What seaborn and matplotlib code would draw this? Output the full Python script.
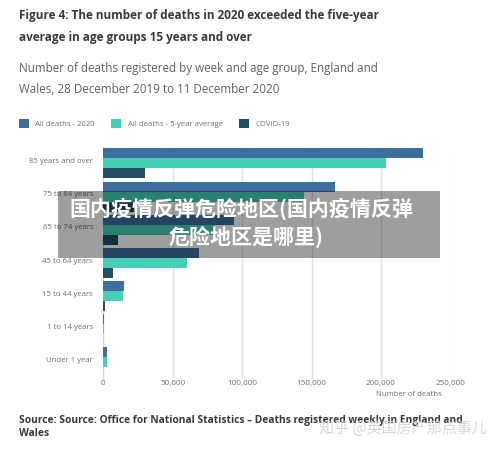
import matplotlib
matplotlib.use("Agg")
import matplotlib.pyplot as plt
import seaborn as sns
import pandas as pd
from matplotlib.patches import Rectangle
from matplotlib.transforms import ScaledTranslation

age_groups = ["85 years and over", "75 to 84 years", "65 to 74 years", "45 to 64 years",
              "15 to 44 years", "1 to 14 years", "Under 1 year"]
deaths_2020 = [230000, 167000, 94200, 68900, 14900, 500, 2400]
deaths_avg = [203500, 144400, 80000, 60400, 14400, 700, 2700]
deaths_covid = [30200, 22000, 10800, 6700, 1000, 30, 5]
series_names = ["All deaths - 2020", "All deaths - 5-year average", "COVID-19"]
series_colors = ["#3c6e9f", "#45cfb4", "#234e63"]
x_ticks = [0, 50000, 100000, 150000, 200000, 250000]

W, H = 500, 449
plt.rcParams["font.family"] = ["Open Sans", "Noto Sans CJK SC", "DejaVu Sans"]
fig = plt.figure(figsize=(W / 100, H / 100), dpi=100, facecolor="white")
left, right, top, bottom = 103.3, 450.5, 147.0, 378.5
ax = fig.add_axes([left / W, 1 - bottom / H, (right - left) / W, (bottom - top) / H])

df = pd.DataFrame({
    "age": age_groups * 3,
    "value": deaths_2020 + deaths_avg + deaths_covid,
    "series": sum([[s] * len(age_groups) for s in series_names], []),
})
sns.barplot(data=df, y="age", x="value", hue="series", order=age_groups, hue_order=series_names,
            palette=series_colors, orient="h", width=0.906, gap=0, saturation=1, legend=False, ax=ax,
            zorder=3, linewidth=0)

ax.set_xlim(0, 250000)
ax.set_ylim(6.495, -0.498)
ax.set_xticks(x_ticks)
ax.set_xticklabels([f"{v:,}" for v in x_ticks], fontsize=5.9, color="#707070")
ax.set_yticks(range(len(age_groups)))
ax.set_yticklabels(age_groups, fontsize=5.6, color="#707070")
ax.tick_params(length=0, pad=7.3, axis="y")
ax.tick_params(length=0, pad=1.0, axis="x")
for label in ax.get_yticklabels():
    label.set_transform(label.get_transform() + ScaledTranslation(0, 2 / 72, fig.dpi_scale_trans))
for s in ["top", "right", "bottom"]:
    ax.spines[s].set_visible(False)
ax.spines["left"].set_color("#c9dde0")
ax.spines["left"].set_linewidth(0.8)
ax.grid(axis="x", color="#e2e2e2", linewidth=1, zorder=0)
ax.set_axisbelow(True)
ax.grid(axis="y", visible=False)
ax.set_xlabel("")
ax.set_ylabel("")


def px(x, y, s, **kw):
    return fig.text(x / W, 1 - y / H, s, **kw)


px(19, 16, "Figure 4: The number of deaths in 2020 exceeded the five-year", fontsize=8.43, fontweight="bold",
   color="#3a3a3a", va="center")
px(19, 37, "average in age groups 15 years and over", fontsize=8.43, fontweight="bold", color="#3a3a3a", va="center")
px(19, 69, "Number of deaths registered by week and age group, England and", fontsize=8.36, color="#606060", va="center")
px(19, 89.5, "Wales, 28 December 2019 to 11 December 2020", fontsize=8.36, color="#606060", va="center")

for x0, x1, c, name in zip([19, 111, 239], [35, 127.5, 255.5], series_colors, series_names):
    fig.patches.append(Rectangle((x0 / W, 1 - 128 / H), 9.5 / W, 9.5 / H, transform=fig.transFigure,
                                 facecolor=c, edgecolor="none"))
    px(x1, 125, name, fontsize=5.6, color="#707070", va="center")

px(375.5, 394, "Number of deaths", fontsize=5.6, color="#707070", va="center", ha="left")

px(19, 420, "Source: Source: Office for National Statistics \u2013 Deaths registered weekly in England and",
   fontsize=7.42, fontweight="bold", color="#3a3a3a", va="center")
px(19, 434, "Wales", fontsize=7.42, fontweight="bold", color="#3a3a3a", va="center")

px(487, 428, "知乎 @英国房产那点事儿", fontsize=10.85, color="#d4d4d4", alpha=0.9, va="center", ha="right",
   family=["Noto Sans CJK SC", "DejaVu Sans"], zorder=20)

fig.patches.append(Rectangle((58 / W, 1 - 258 / H), 382 / W, 67 / H, transform=fig.transFigure,
                             facecolor="black", alpha=0.38, edgecolor="none", zorder=10))
px(241.5, 208.5, "国内疫情反弹危险地区(国内疫情反弹", fontsize=15.1, fontweight="bold", color="white",
   va="center", ha="center", family=["Noto Sans CJK SC", "DejaVu Sans"], zorder=21)
px(246.5, 236.5, "危险地区是哪里)", fontsize=15.1, fontweight="bold", color="white",
   va="center", ha="center", family=["Noto Sans CJK SC", "DejaVu Sans"], zorder=21)

fig.savefig("out.png", dpi=100)
